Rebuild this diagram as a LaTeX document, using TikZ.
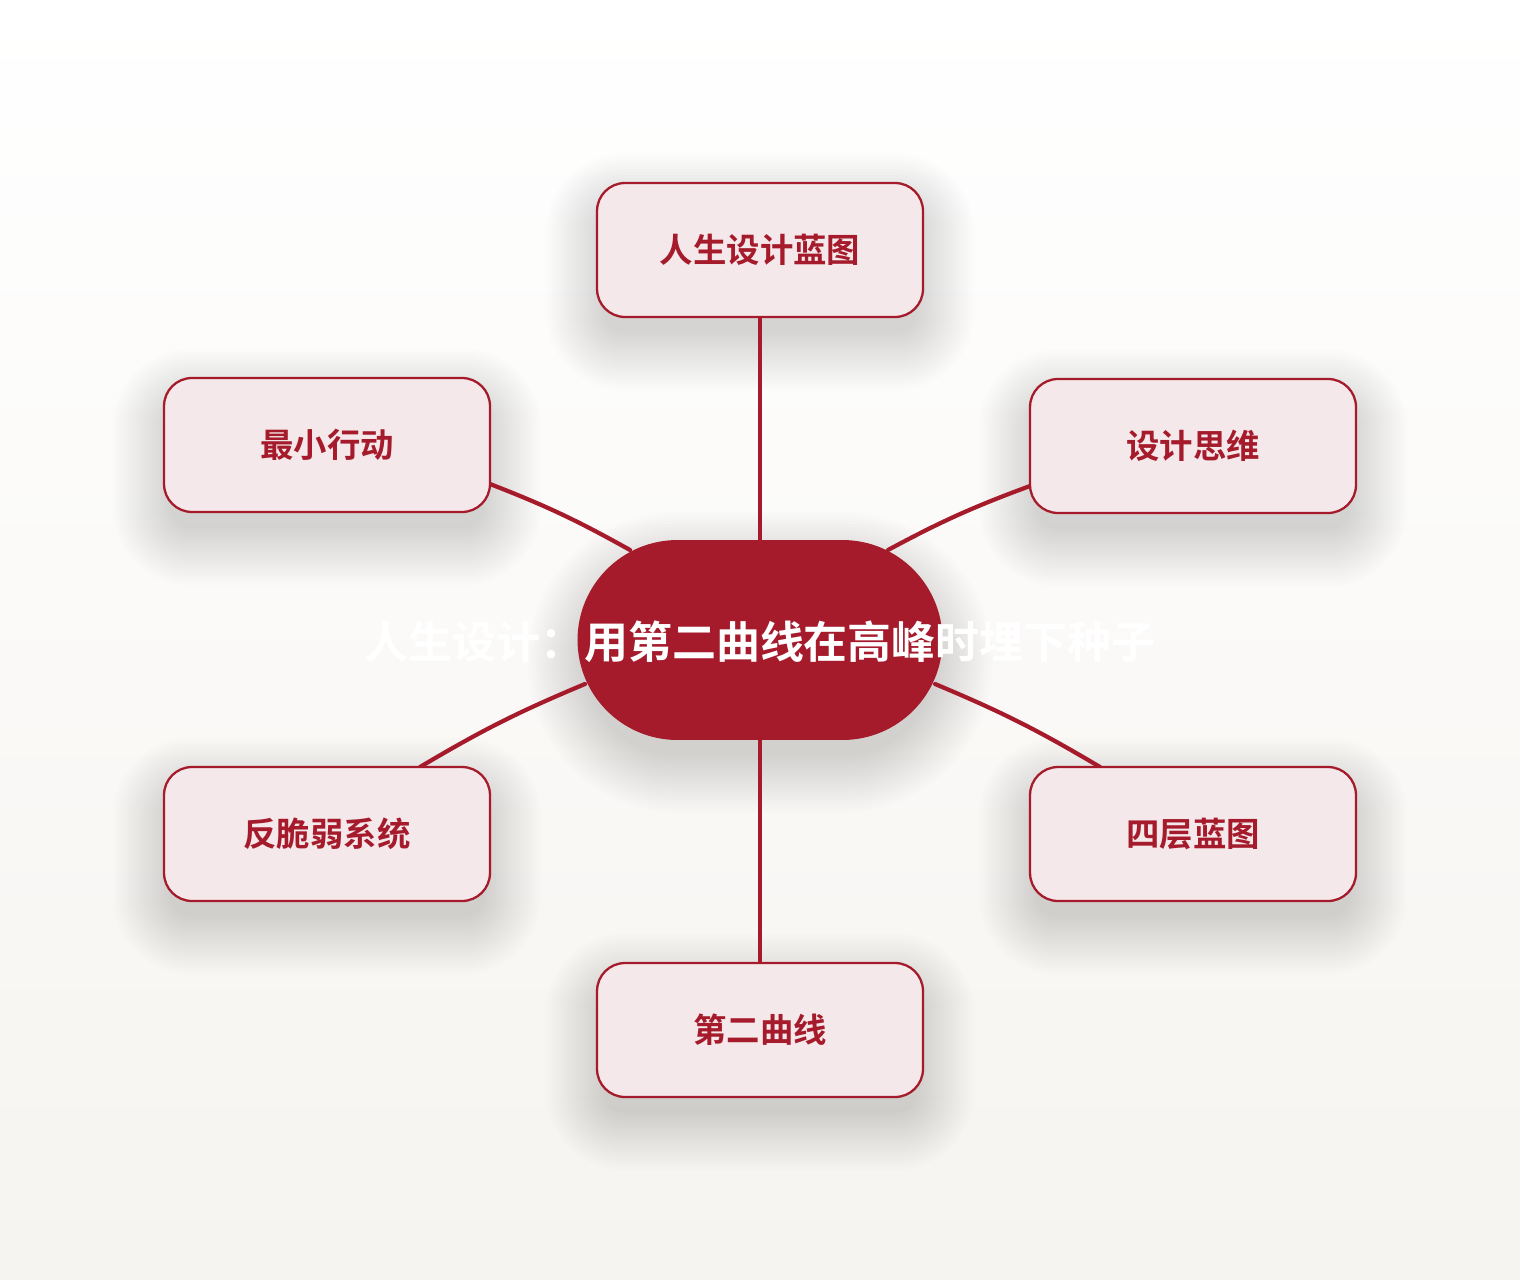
\documentclass[tikz,border=0pt]{standalone}
\usepackage{fontspec}
\setmainfont{Noto Sans CJK SC}
\newfontfamily\cjkb{Noto Sans CJK SC Bold}
\usetikzlibrary{calc}
\pgfdeclarelayer{bglayer}
\pgfdeclarelayer{shadowlayer}
\pgfsetlayers{bglayer,shadowlayer,main}
\definecolor{mred}{HTML}{A51B2B}
\definecolor{mfill}{HTML}{F4E8EB}
\definecolor{bgtop}{HTML}{FFFFFF}
\definecolor{bgbot}{HTML}{F6F4F0}
\tikzset{
  leaf/.style={draw=mred, line width=1.3pt, fill=mfill, rounded corners=0.56cm,
    minimum width=6.52cm, minimum height=2.68cm, text=mred,
    font=\cjkb\fontsize{19pt}{22pt}\selectfont},
  hub/.style={fill=mred, rounded corners=2cm, minimum width=7.3cm, minimum height=4cm},
  link/.style={draw=mred, line width=2.4pt, line cap=round},
  shadowlay/.style={fill=black, fill opacity=0.0075}
}
\newcommand\softshadow[2]{%
  \foreach \k in {0,...,19}{%
    \pgfmathsetmacro\ee{50-3*\k}%
    \pgfmathsetmacro\rr{max(#2+\ee,4)*0.02}%
    \path[shadowlay, rounded corners=\rr cm]
      ($(#1.south west)+(-\ee,\ee+22)$) rectangle ($(#1.north east)+(\ee,-\ee+22)$);
  }%
}
\begin{document}
\begin{tikzpicture}[x=0.02cm, y=-0.02cm]
\begin{pgfonlayer}{bglayer}
\shade[top color=bgtop, bottom color=bgbot] (0,0) rectangle (1520,1280);
\end{pgfonlayer}
\useasboundingbox (0,0) rectangle (1520,1280);
\node[leaf] (t) at (760,250) {人生设计蓝图};
\node[leaf] (lt) at (327,445) {最小行动};
\node[leaf] (rt) at (1193,446) {设计思维};
\node[leaf] (lb) at (327,834) {反脆弱系统};
\node[leaf] (rb) at (1193,834) {四层蓝图};
\node[leaf] (b) at (760,1030) {第二曲线};
\node[hub] (c) at (760,640) {};
\begin{pgfonlayer}{shadowlayer}
\softshadow{t}{28}
\softshadow{lt}{28}
\softshadow{rt}{28}
\softshadow{lb}{28}
\softshadow{rb}{28}
\softshadow{b}{28}
\softshadow{c}{100}
\draw[link] (t.south) -- (c.north);
\draw[link] (c.south) -- (b.north);
\draw[link] ($(lt.center)+(163,39)$) to[bend left=4] ($(c.center)+(-130,-90)$);
\draw[link] ($(rt.center)+(-163,40)$) to[bend right=4] ($(c.center)+(128,-90)$);
\draw[link] ($(lb.center)+(93,-67)$) to[bend left=4] ($(c.center)+(-175,44)$);
\draw[link] ($(rb.center)+(-93,-67)$) to[bend right=4] ($(c.center)+(175,44)$);
\end{pgfonlayer}
\node[text=white, font=\cjkb\fontsize{25pt}{30pt}\selectfont] (ct) at (760,642) {人生设计：用第二曲线在高峰时埋下种子};
\end{tikzpicture}
\end{document}
